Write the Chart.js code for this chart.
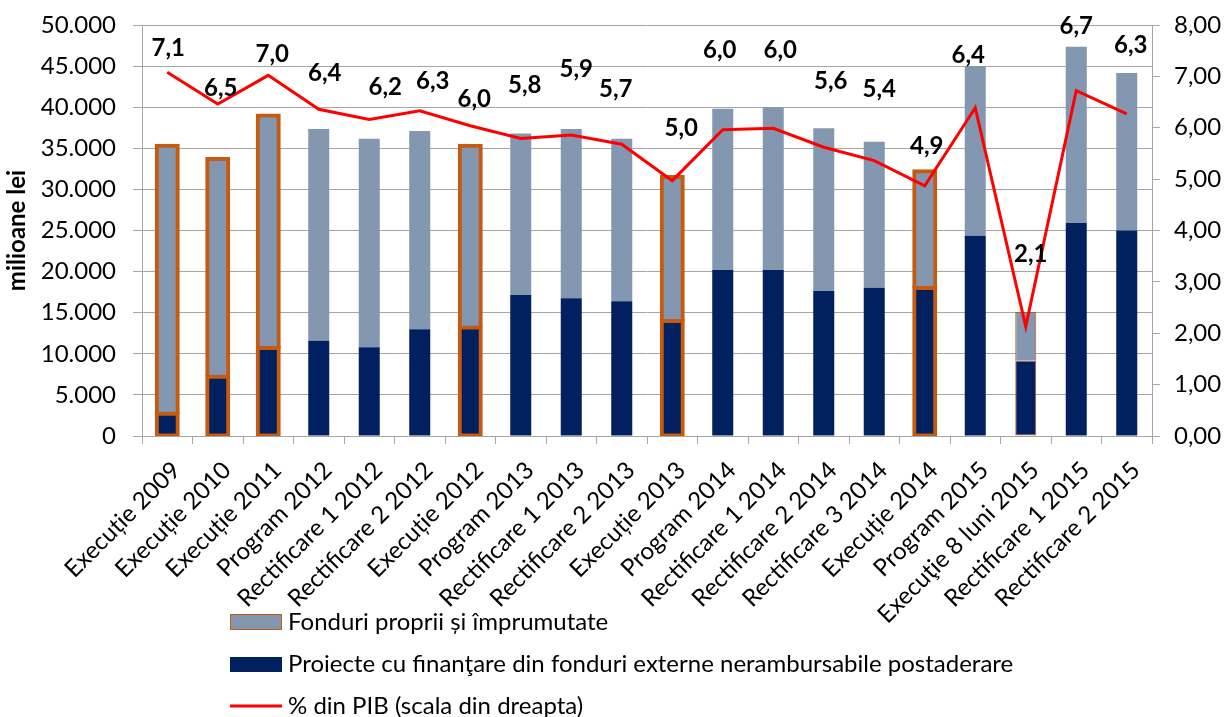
<!DOCTYPE html>
<html>
<head>
<meta charset="utf-8">
<script src="https://cdn.jsdelivr.net/npm/chart.js@4"></script>
<style>
  html, body { margin: 0; padding: 0; background: #fff; }
  #wrap { width: 1229px; height: 717px; }
</style>
</head>
<body>
<div id="wrap"><canvas id="myChart"></canvas></div>
<script>
// categories (x axis)
const categories = [
  "Execuție 2009", "Execuție 2010", "Execuție 2011", "Program 2012", "Rectificare 1 2012",
  "Rectificare 2 2012", "Execuție 2012", "Program 2013", "Rectificare 1 2013", "Rectificare 2 2013",
  "Execuție 2013", "Program 2014", "Rectificare 1 2014", "Rectificare 2 2014", "Rectificare 3 2014",
  "Execuție 2014", "Program 2015", "Execuţie 8 luni 2015", "Rectificare 1 2015", "Rectificare 2 2015"
];

// milioane lei - proiecte cu finantare externa (partea de jos)
const externe = [2700, 7200, 10700, 11600, 10800, 13000, 13200, 17150, 16750, 16400,
  14000, 20200, 20200, 17650, 18050, 18000, 24350, 9150, 25900, 25000];
// milioane lei - fonduri proprii si imprumutate (partea de sus)
const proprii = [32600, 26500, 28300, 25750, 25350, 24100, 22100, 19650, 20600, 19750,
  17500, 19600, 19800, 19800, 17750, 14200, 20650, 5950, 21450, 19150];
// % din PIB (scala din dreapta)
const pib = [7.08, 6.46, 7.02, 6.36, 6.16, 6.33, 6.04, 5.79, 5.86, 5.68,
  4.97, 5.96, 5.99, 5.62, 5.36, 4.87, 6.39, 2.13, 6.72, 6.27];

// where Excel put each % label, relative to its point (px)
const labelShift = [[1, -24], [3, -16], [4, -21], [6, -36], [16, -32], [13, -30], [4, -26], [4, -53],
  [5, -66], [-6, -55], [9, -52], [-3, -80], [7, -78], [7, -66], [5, -71], [2, -40], [-7, -52],
  [5, -72], [0, -64], [4, -69]];

const seriesNames = [
  "Fonduri proprii și împrumutate",
  "Proiecte cu finanţare din fonduri externe nerambursabile postaderare",
  "% din PIB (scala din dreapta)"
];

const DARK = "#002060";
const LIGHT = "#8497B0";
const ORANGE = "#C55A11";
const RED = "#FF0000";
const GRID = "#A6A6A6";

// executions get an orange outline (thin one for the 8 months)
function outline(i) {
  const c = categories[i];
  if (c.indexOf("8 luni") >= 0) return 1;
  if (c.indexOf("Execu") === 0) return 4;
  return 0;
}

function thousands(v) {
  return String(v).replace(/\B(?=(\d{3})+(?!\d))/g, ".");
}

Chart.defaults.font.family = "Lato";
Chart.defaults.font.size = 24;
Chart.defaults.color = "#000";

// data labels on the red line
const pibLabels = {
  id: "pibLabels",
  afterDatasetsDraw(chart) {
    const meta = chart.getDatasetMeta(2);
    const ctx = chart.ctx;
    ctx.save();
    ctx.font = "bold 24px Lato";
    ctx.fillStyle = "#000";
    ctx.textAlign = "center";
    ctx.textBaseline = "middle";
    meta.data.forEach(function (pt, i) {
      const txt = pib[i].toFixed(1).replace(".", ",");
      ctx.fillText(txt, pt.x + labelShift[i][0], pt.y + labelShift[i][1]);
    });
    ctx.restore();
  }
};

// legend under the chart, one item per row
const rowLegend = {
  id: "rowLegend",
  afterDraw(chart) {
    const ctx = chart.ctx;
    ctx.save();
    ctx.font = "24px Lato";
    ctx.textBaseline = "middle";
    ctx.textAlign = "left";

    ctx.fillStyle = LIGHT;
    ctx.fillRect(230, 614, 52, 16);
    ctx.strokeStyle = ORANGE;
    ctx.lineWidth = 1;
    ctx.strokeRect(230.5, 614.5, 51, 15);

    ctx.fillStyle = DARK;
    ctx.fillRect(230, 657, 52, 15);

    ctx.strokeStyle = RED;
    ctx.lineWidth = 3;
    ctx.beginPath();
    ctx.moveTo(230, 706);
    ctx.lineTo(282, 706);
    ctx.stroke();

    ctx.fillStyle = "#000";
    ctx.fillText(seriesNames[0], 288, 622);
    ctx.fillText(seriesNames[1], 288, 664);
    ctx.fillText(seriesNames[2], 288, 706);
    ctx.restore();
  }
};

const data = {
  labels: categories,
  datasets: [
    {
      type: "bar",
      label: seriesNames[1],
      data: externe,
      backgroundColor: DARK,
      borderColor: ORANGE,
      borderWidth: (c) => outline(c.dataIndex),
      borderSkipped: false,
      inflateAmount: (c) => (outline(c.dataIndex) === 4 ? 2 : 0),
      yAxisID: "y",
      order: 1
    },
    {
      type: "bar",
      label: seriesNames[0],
      data: proprii,
      backgroundColor: LIGHT,
      borderColor: ORANGE,
      borderWidth: (c) => outline(c.dataIndex),
      borderSkipped: "start",
      inflateAmount: (c) => (outline(c.dataIndex) === 4 ? 2 : 0),
      yAxisID: "y",
      order: 2
    },
    {
      type: "line",
      label: seriesNames[2],
      data: pib,
      borderColor: RED,
      borderWidth: 3,
      pointRadius: 0,
      tension: 0,
      yAxisID: "y1",
      order: 0
    }
  ]
};

// vertical axes: fixed width, and no extra room above/below for their labels
function fixVertical(width) {
  return function (s) {
    s.width = width;
    s.paddingTop = 0;
    s.paddingBottom = 0;
  };
}

const config = {
  type: "bar",
  data: data,
  options: {
    responsive: true,
    maintainAspectRatio: false,
    animation: false,
    devicePixelRatio: 1,
    layout: { padding: { top: 25, left: 0, right: 0, bottom: 0 } },
    datasets: {
      bar: { barPercentage: 0.416, categoryPercentage: 1 }
    },
    plugins: {
      legend: { display: false },
      tooltip: { enabled: false }
    },
    scales: {
      x: {
        stacked: true,
        grid: { display: true, drawOnChartArea: false, drawTicks: true, tickLength: 8, color: GRID, offset: true },
        border: { color: GRID, width: 1 },
        ticks: { autoSkip: false, maxRotation: 45, minRotation: 45, padding: 12, labelOffset: 9, font: { size: 24 } },
        afterFit: (s) => { s.height = 281; }
      },
      y: {
        stacked: true,
        position: "left",
        min: 0,
        max: 50000,
        grid: { color: GRID, tickLength: 9 },
        border: { color: GRID, width: 1 },
        ticks: { stepSize: 5000, padding: 17, font: { size: 24 }, callback: (v) => thousands(v) },
        title: { display: true, text: "milioane lei", font: { size: 24, weight: "bold" }, padding: { top: 3, bottom: 0 } },
        afterFit: fixVertical(142)
      },
      y1: {
        position: "right",
        min: 0,
        max: 8,
        grid: { drawOnChartArea: false, color: GRID, tickLength: 8 },
        border: { color: GRID, width: 1 },
        ticks: { stepSize: 1, padding: 14, font: { size: 24 }, callback: (v) => v.toFixed(2).replace(".", ",") },
        afterFit: fixVertical(77)
      }
    }
  },
  plugins: [pibLabels, rowLegend]
};

let context = document.getElementById("myChart").getContext("2d");
let chart = new Chart(context, config);
</script>
</body>
</html>
